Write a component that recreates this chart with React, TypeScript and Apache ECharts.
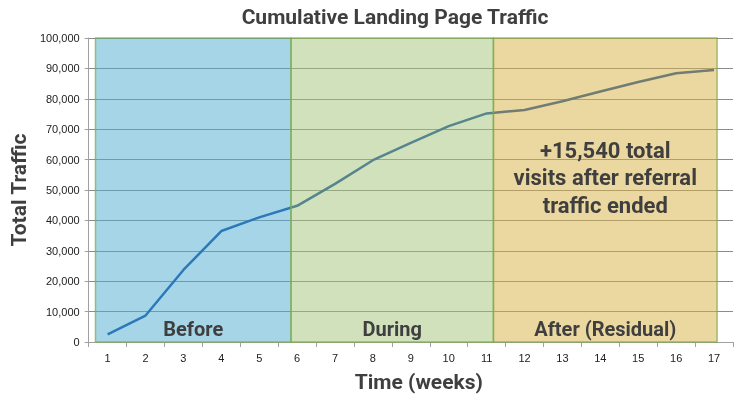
import React, { useEffect, useRef } from "react";
import * as echarts from "echarts";

const weeks = ["1","2","3","4","5","6","7","8","9","10","11","12","13","14","15","16","17"];
const traffic = [2500, 8700, 23700, 36500, 41000, 44800, 52000, 59800, 65500, 71000, 75200, 76300, 79200, 82400, 85500, 88400, 89500];
const phaseNames = ["Before", "During", "After (Residual)"];
// phase boundaries in week units (box edges)
const phaseBounds = [0.68, 5.84, 11.18, 17.08];
const phaseTop = 101300;
const phaseFills = ["rgba(77,171,209,0.5)", "rgba(161,195,121,0.5)", "rgba(215,177,65,0.5)"];
const annotationLines = ["+15,540 total", "visits after referral", "traffic ended"];
const annotationY = 54000;

const FONT = "Roboto, 'Liberation Sans', sans-serif";

export default function App() {
  const ref = useRef<HTMLDivElement>(null);
  useEffect(() => {
    if (!ref.current) return;
    const chart = echarts.init(ref.current, null, { renderer: "svg" });
    const areas = phaseNames.map((n, i) => [
      {
        name: n,
        xAxis: phaseBounds[i],
        yAxis: 0,
        itemStyle: { color: phaseFills[i], borderColor: "rgba(120,170,70,0.7)", borderWidth: 1.5 },
      },
      { xAxis: phaseBounds[i + 1], yAxis: phaseTop },
    ]);
    chart.setOption({
      animation: false,
      title: {
        text: "Cumulative Landing Page Traffic",
        left: 390,
        top: 1,
        textAlign: "center",
        textStyle: { fontFamily: FONT, fontSize: 21, fontWeight: "bold", color: "#3f3f3f" },
      },
      grid: { left: 86, right: 5, top: 38, bottom: 55 },
      xAxis: [
        {
          type: "category",
          data: weeks,
          boundaryGap: true,
          name: "Time (weeks)",
          nameLocation: "middle",
          nameGap: 29,
          nameTextStyle: { fontFamily: FONT, fontSize: 21, fontWeight: "bold", color: "#3f3f3f", padding: [0, 0, 0, 16] },
          axisLine: { lineStyle: { color: "#a0a0a0", width: 1 } },
          axisTick: { show: true, length: 5, lineStyle: { color: "#a0a0a0" } },
          axisLabel: { fontFamily: "'Liberation Sans', Arial, sans-serif", fontSize: 11, color: "#222", margin: 10 },
          splitLine: { show: false },
        },
        {
          type: "value",
          min: 0.5,
          max: 17.5,
          show: false,
          splitLine: { show: false },
        },
      ],
      yAxis: {
        type: "value",
        min: 0,
        max: 100000,
        interval: 10000,
        name: "Total Traffic",
        nameLocation: "middle",
        nameGap: 58,
        nameTextStyle: { fontFamily: FONT, fontSize: 21, fontWeight: "bold", color: "#3f3f3f" },
        axisLine: { show: true, lineStyle: { color: "#a0a0a0", width: 1 } },
        axisTick: { show: true, length: 4, lineStyle: { color: "#a0a0a0" } },
        axisLabel: {
          fontFamily: "'Liberation Sans', Arial, sans-serif",
          fontSize: 11,
          color: "#222",
          margin: 9,
          formatter: (v: number) => v.toLocaleString("en-US"),
        },
        splitLine: { show: true, lineStyle: { color: "#8c8c8c", width: 1 } },
      },
      series: [
        {
          type: "line",
          data: traffic,
          z: 2,
          symbol: "none",
          lineStyle: { color: "#0b47a3", width: 2.5 },
        },
        {
          type: "line",
          xAxisIndex: 1,
          data: [],
          z: 5,
          clip: false,
          markArea: {
            z: 5,
            silent: true,
            label: {
              show: true,
              position: "insideBottom",
              distance: 4,
              fontFamily: FONT,
              fontSize: 20,
              fontWeight: "bold",
              color: "#3f3f3f",
            },
            data: areas,
          },
        },
      ],
    });
    const cx = chart.convertToPixel({ xAxisIndex: 1 }, (phaseBounds[2] + phaseBounds[3]) / 2) as number;
    const cy = chart.convertToPixel({ yAxisIndex: 0 }, annotationY) as number;
    chart.setOption({
      graphic: [
        {
          type: "text",
          x: cx,
          y: cy,
          z: 100,
          style: {
            text: annotationLines.join("\n"),
            align: "center",
            verticalAlign: "middle",
            fontFamily: FONT,
            fontSize: 22,
            fontWeight: "bold",
            lineHeight: 27.5,
            fill: "#3f3f3f",
          },
        },
      ],
    });
    return () => chart.dispose();
  }, []);
  return <div ref={ref} style={{ position: "fixed", left: 0, top: 0, width: 738, height: 397 }} />;
}
